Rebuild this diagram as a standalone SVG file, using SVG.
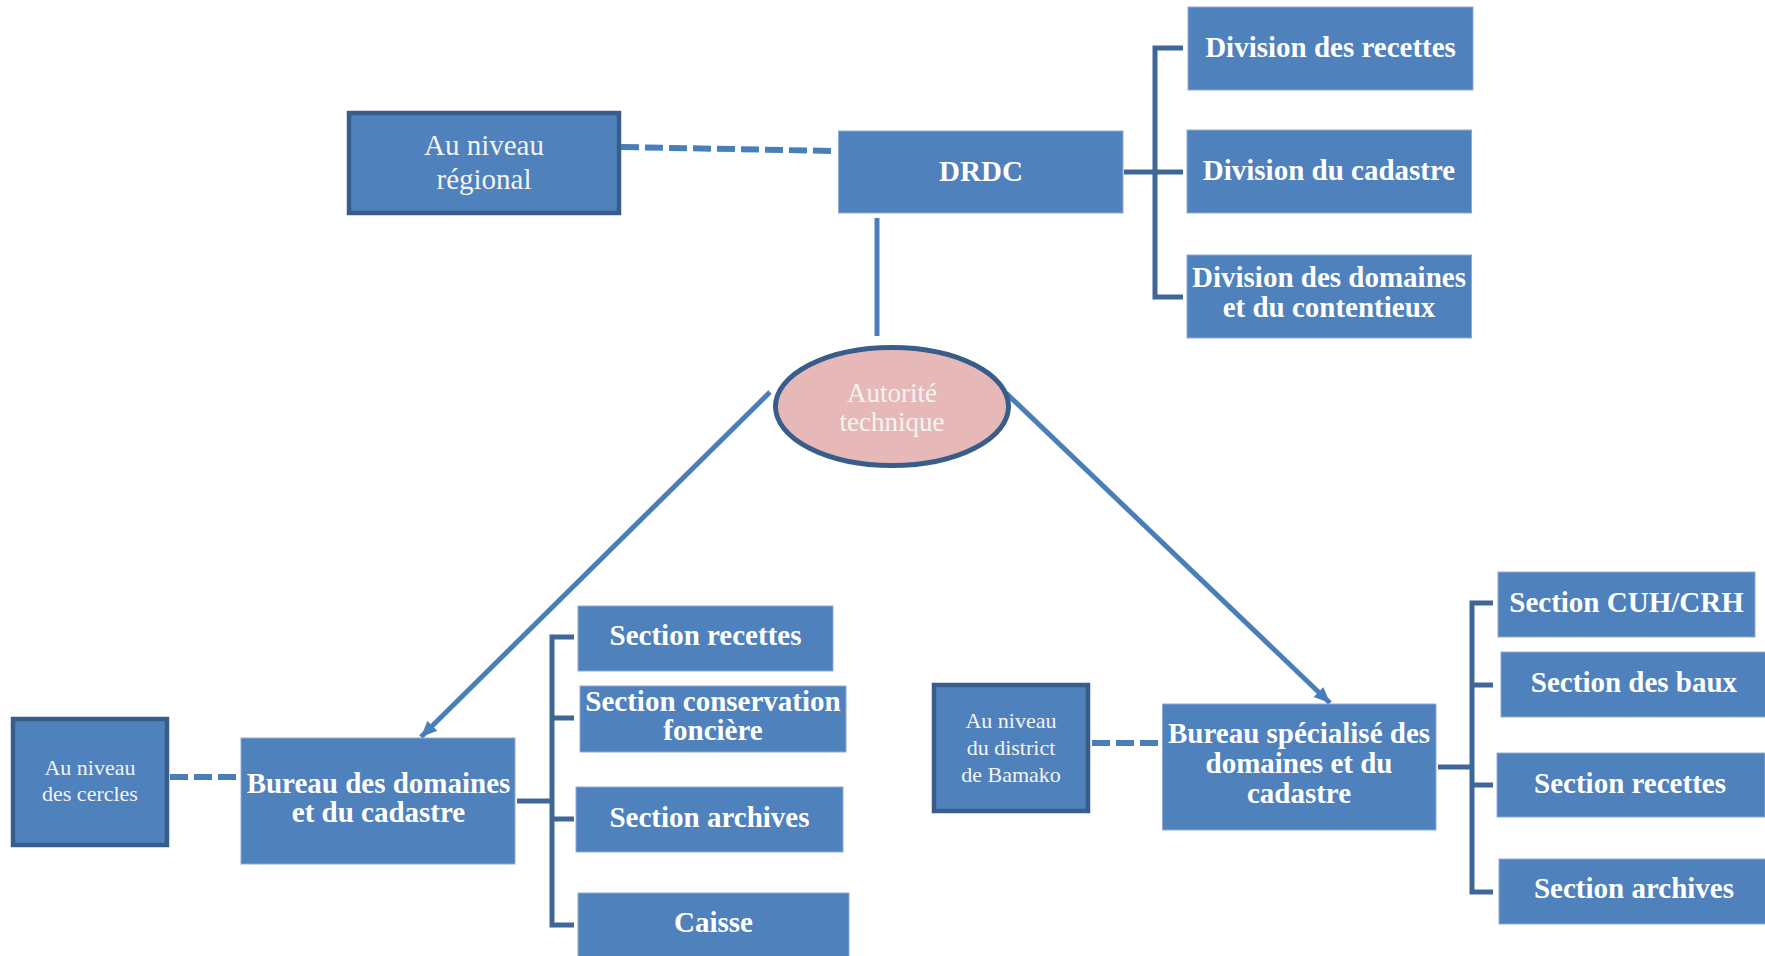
<svg xmlns="http://www.w3.org/2000/svg" width="1765" height="956" viewBox="0 0 1765 956">
<style>
.box{fill:#4F81BD;stroke:#8FAAD3;stroke-width:1}
.lvl{fill:#4F81BD;stroke:#385D8A;stroke-width:4.5}
.b{font-family:"Liberation Serif",serif;font-weight:bold;font-size:29px;fill:#FFFFFF;text-anchor:middle}
.r{font-family:"Liberation Serif",serif;fill:#F4F4F4;text-anchor:middle}
.br{fill:none;stroke:#3E6697;stroke-width:5}
.ln{fill:none;stroke:#4A7EBB;stroke-width:5}
.ds{fill:none;stroke:#4A7EBB;stroke-width:6;stroke-dasharray:18 6}
</style>
<defs>
<marker id="ah" markerUnits="userSpaceOnUse" markerWidth="18" markerHeight="16" refX="16" refY="8" orient="auto">
<path d="M0,1 L16,8 L0,15 z" fill="#4A7EBB"/>
</marker>
</defs>
<g id="connectors">
<path class="ds" d="M621,147 L836,151"/>
<path class="ln" d="M877,218 L877,336"/>
<path class="br" d="M1124,172 L1155,172 M1183,48 L1155,48 L1155,297 L1183,297 M1155,172 L1183,172"/>
<path class="ln" d="M770,392 L421,737" marker-end="url(#ah)"/>
<path class="ln" d="M1006,393 L1330,703" marker-end="url(#ah)"/>
<path class="ds" d="M170,777 L241,777"/>
<path class="br" d="M517,801 L552,801 M574,637 L552,637 L552,925 L574,925 M552,718 L574,718 M552,819 L574,819"/>
<path class="ds" d="M1092,743 L1161,743"/>
<path class="br" d="M1438,767 L1472,767 M1493,603 L1472,603 L1472,892 L1493,892 M1472,685 L1493,685 M1472,785 L1493,785"/>
</g>
<g id="regional">
<rect class="lvl" x="349" y="113" width="270" height="100"/>
<text class="r" font-size="29" x="484" y="155">Au niveau</text>
<text class="r" font-size="29" x="484" y="189">régional</text>
</g>
<g id="drdc">
<rect class="box" x="838.5" y="131" width="284.5" height="82"/>
<text class="b" x="981" y="181">DRDC</text>
</g>
<g id="div-recettes">
<rect class="box" x="1188" y="7" width="285" height="83"/>
<text class="b" x="1330.5" y="57">Division des recettes</text>
</g>
<g id="div-cadastre">
<rect class="box" x="1187" y="130" width="284.5" height="83"/>
<text class="b" x="1329" y="180">Division du cadastre</text>
</g>
<g id="div-domaines">
<rect class="box" x="1187" y="255" width="284.5" height="83"/>
<text class="b" x="1329" y="287">Division des domaines</text>
<text class="b" x="1329" y="317">et du contentieux</text>
</g>
<g id="autorite">
<ellipse cx="892" cy="406.5" rx="116.5" ry="59" fill="#E6B9B8" stroke="#385D8A" stroke-width="5"/>
<text class="r" font-size="27" x="892" y="402">Autorité</text>
<text class="r" font-size="27" x="892" y="431">technique</text>
</g>
<g id="cercles">
<rect class="lvl" x="13" y="719" width="154" height="126"/>
<text class="r" font-size="22" x="90" y="775">Au niveau</text>
<text class="r" font-size="22" x="90" y="801">des cercles</text>
</g>
<g id="bureau-domaines">
<rect class="box" x="241" y="738" width="274" height="126"/>
<text class="b" x="378.5" y="793">Bureau des domaines</text>
<text class="b" x="378.5" y="822">et du cadastre</text>
</g>
<g id="l-recettes">
<rect class="box" x="578" y="606" width="255" height="65"/>
<text class="b" x="705.5" y="645">Section recettes</text>
</g>
<g id="l-conservation">
<rect class="box" x="580" y="686" width="266" height="66"/>
<text class="b" x="713" y="711">Section conservation</text>
<text class="b" x="713" y="740">foncière</text>
</g>
<g id="l-archives">
<rect class="box" x="576" y="787" width="267" height="65"/>
<text class="b" x="709.5" y="827">Section archives</text>
</g>
<g id="l-caisse">
<rect class="box" x="578" y="893" width="271" height="70"/>
<text class="b" x="713.5" y="932">Caisse</text>
</g>
<g id="district">
<rect class="lvl" x="934" y="685" width="154" height="126"/>
<text class="r" font-size="22" x="1011" y="728">Au niveau</text>
<text class="r" font-size="22" x="1011" y="755">du district</text>
<text class="r" font-size="22" x="1011" y="782">de Bamako</text>
</g>
<g id="bureau-specialise">
<rect class="box" x="1162.5" y="704" width="273.5" height="126"/>
<text class="b" x="1299" y="743">Bureau spécialisé des</text>
<text class="b" x="1299" y="773">domaines et du</text>
<text class="b" x="1299" y="803">cadastre</text>
</g>
<g id="r-cuh">
<rect class="box" x="1498" y="572" width="257" height="65"/>
<text class="b" x="1626.5" y="612">Section CUH/CRH</text>
</g>
<g id="r-baux">
<rect class="box" x="1501" y="652" width="268" height="65"/>
<text class="b" x="1634" y="692">Section des baux</text>
</g>
<g id="r-recettes">
<rect class="box" x="1497" y="753" width="268" height="64"/>
<text class="b" x="1630" y="793">Section recettes</text>
</g>
<g id="r-archives">
<rect class="box" x="1499" y="859" width="268" height="65"/>
<text class="b" x="1634" y="898">Section archives</text>
</g>
</svg>
